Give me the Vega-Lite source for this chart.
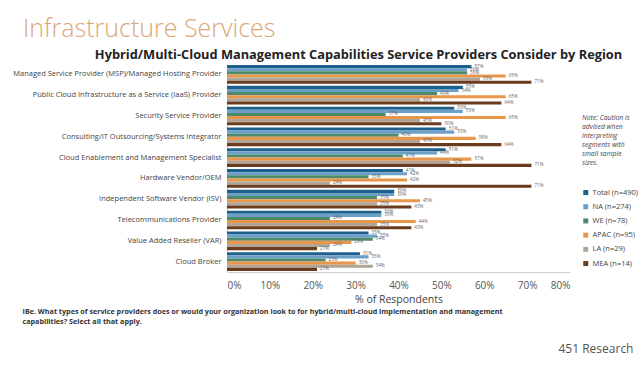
{
  "$schema": "https://vega.github.io/schema/vega-lite/v6.json",
  "width": 343,
  "height": 208,
  "autosize": {"type": "none"},
  "padding": {"left": 227, "top": 64, "right": 70, "bottom": 93},
  "background": "white",
  "config": {"view": {"stroke": null}, "font": "Open Sans"},
  "title": {
    "text": "Infrastructure Services",
    "anchor": "start",
    "frame": "group",
    "dx": -204,
    "offset": 6,
    "fontSize": 25,
    "font": "Open Sans",
    "fontWeight": 300,
    "color": "#dba677"
  },
  "data": {
    "values": [
      {"cat": "Managed Service Provider (MSP)/Managed Hosting Provider", "series": "Total (n=490)", "v": 0.57},
      {"cat": "Managed Service Provider (MSP)/Managed Hosting Provider", "series": "NA (n=274)", "v": 0.56},
      {"cat": "Managed Service Provider (MSP)/Managed Hosting Provider", "series": "WE (n=78)", "v": 0.56},
      {"cat": "Managed Service Provider (MSP)/Managed Hosting Provider", "series": "APAC (n=95)", "v": 0.65},
      {"cat": "Managed Service Provider (MSP)/Managed Hosting Provider", "series": "LA (n=29)", "v": 0.59},
      {"cat": "Managed Service Provider (MSP)/Managed Hosting Provider", "series": "MEA (n=14)", "v": 0.71},
      {"cat": "Public Cloud Infrastructure as a Service (IaaS) Provider", "series": "Total (n=490)", "v": 0.55},
      {"cat": "Public Cloud Infrastructure as a Service (IaaS) Provider", "series": "NA (n=274)", "v": 0.54},
      {"cat": "Public Cloud Infrastructure as a Service (IaaS) Provider", "series": "WE (n=78)", "v": 0.49},
      {"cat": "Public Cloud Infrastructure as a Service (IaaS) Provider", "series": "APAC (n=95)", "v": 0.65},
      {"cat": "Public Cloud Infrastructure as a Service (IaaS) Provider", "series": "LA (n=29)", "v": 0.45},
      {"cat": "Public Cloud Infrastructure as a Service (IaaS) Provider", "series": "MEA (n=14)", "v": 0.64},
      {"cat": "Security Service Provider", "series": "Total (n=490)", "v": 0.53},
      {"cat": "Security Service Provider", "series": "NA (n=274)", "v": 0.55},
      {"cat": "Security Service Provider", "series": "WE (n=78)", "v": 0.37},
      {"cat": "Security Service Provider", "series": "APAC (n=95)", "v": 0.65},
      {"cat": "Security Service Provider", "series": "LA (n=29)", "v": 0.45},
      {"cat": "Security Service Provider", "series": "MEA (n=14)", "v": 0.50},
      {"cat": "Consulting/IT Outsourcing/Systems Integrator", "series": "Total (n=490)", "v": 0.51},
      {"cat": "Consulting/IT Outsourcing/Systems Integrator", "series": "NA (n=274)", "v": 0.53},
      {"cat": "Consulting/IT Outsourcing/Systems Integrator", "series": "WE (n=78)", "v": 0.40},
      {"cat": "Consulting/IT Outsourcing/Systems Integrator", "series": "APAC (n=95)", "v": 0.58},
      {"cat": "Consulting/IT Outsourcing/Systems Integrator", "series": "LA (n=29)", "v": 0.45},
      {"cat": "Consulting/IT Outsourcing/Systems Integrator", "series": "MEA (n=14)", "v": 0.64},
      {"cat": "Cloud Enablement and Management Specialist", "series": "Total (n=490)", "v": 0.51},
      {"cat": "Cloud Enablement and Management Specialist", "series": "NA (n=274)", "v": 0.49},
      {"cat": "Cloud Enablement and Management Specialist", "series": "WE (n=78)", "v": 0.41},
      {"cat": "Cloud Enablement and Management Specialist", "series": "APAC (n=95)", "v": 0.57},
      {"cat": "Cloud Enablement and Management Specialist", "series": "LA (n=29)", "v": 0.52},
      {"cat": "Cloud Enablement and Management Specialist", "series": "MEA (n=14)", "v": 0.71},
      {"cat": "Hardware Vendor/OEM", "series": "Total (n=490)", "v": 0.41},
      {"cat": "Hardware Vendor/OEM", "series": "NA (n=274)", "v": 0.42},
      {"cat": "Hardware Vendor/OEM", "series": "WE (n=78)", "v": 0.33},
      {"cat": "Hardware Vendor/OEM", "series": "APAC (n=95)", "v": 0.42},
      {"cat": "Hardware Vendor/OEM", "series": "LA (n=29)", "v": 0.24},
      {"cat": "Hardware Vendor/OEM", "series": "MEA (n=14)", "v": 0.71},
      {"cat": "Independent Software Vendor (ISV)", "series": "Total (n=490)", "v": 0.39},
      {"cat": "Independent Software Vendor (ISV)", "series": "NA (n=274)", "v": 0.39},
      {"cat": "Independent Software Vendor (ISV)", "series": "WE (n=78)", "v": 0.35},
      {"cat": "Independent Software Vendor (ISV)", "series": "APAC (n=95)", "v": 0.45},
      {"cat": "Independent Software Vendor (ISV)", "series": "LA (n=29)", "v": 0.35},
      {"cat": "Independent Software Vendor (ISV)", "series": "MEA (n=14)", "v": 0.43},
      {"cat": "Telecommunications Provider", "series": "Total (n=490)", "v": 0.36},
      {"cat": "Telecommunications Provider", "series": "NA (n=274)", "v": 0.36},
      {"cat": "Telecommunications Provider", "series": "WE (n=78)", "v": 0.24},
      {"cat": "Telecommunications Provider", "series": "APAC (n=95)", "v": 0.44},
      {"cat": "Telecommunications Provider", "series": "LA (n=29)", "v": 0.35},
      {"cat": "Telecommunications Provider", "series": "MEA (n=14)", "v": 0.43},
      {"cat": "Value Added Reseller (VAR)", "series": "Total (n=490)", "v": 0.33},
      {"cat": "Value Added Reseller (VAR)", "series": "NA (n=274)", "v": 0.35},
      {"cat": "Value Added Reseller (VAR)", "series": "WE (n=78)", "v": 0.34},
      {"cat": "Value Added Reseller (VAR)", "series": "APAC (n=95)", "v": 0.29},
      {"cat": "Value Added Reseller (VAR)", "series": "LA (n=29)", "v": 0.24},
      {"cat": "Value Added Reseller (VAR)", "series": "MEA (n=14)", "v": 0.21},
      {"cat": "Cloud Broker", "series": "Total (n=490)", "v": 0.31},
      {"cat": "Cloud Broker", "series": "NA (n=274)", "v": 0.33},
      {"cat": "Cloud Broker", "series": "WE (n=78)", "v": 0.23},
      {"cat": "Cloud Broker", "series": "APAC (n=95)", "v": 0.30},
      {"cat": "Cloud Broker", "series": "LA (n=29)", "v": 0.34},
      {"cat": "Cloud Broker", "series": "MEA (n=14)", "v": 0.21}
    ]
  },
  "layer": [
    {
      "mark": {"type": "bar"},
      "encoding": {
        "x": {
          "field": "v",
          "type": "quantitative",
          "scale": {"domain": [0, 0.8], "nice": false},
          "axis": {
            "orient": "bottom",
            "format": ".0%",
            "values": [0, 0.1, 0.2, 0.3, 0.4, 0.5, 0.6, 0.7, 0.8],
            "grid": false,
            "ticks": false,
            "domain": true,
            "domainColor": "#d0d0d0",
            "labelFontSize": 10,
            "labelColor": "#555555",
            "labelPadding": 8,
            "title": "% of Respondents",
            "titleFontSize": 10.5,
            "titleFontWeight": "normal",
            "titleColor": "#444444",
            "titlePadding": 4
          }
        },
        "y": {
          "field": "cat",
          "type": "nominal",
          "sort": null,
          "scale": {"paddingInner": 0.1, "paddingOuter": 0.05},
          "axis": {
            "orient": "left",
            "ticks": false,
            "domain": true,
            "domainColor": "#d0d0d0",
            "labelFontSize": 7.5,
            "labelColor": "#444444",
            "labelPadding": 6,
            "labelLimit": 260,
            "title": "Hybrid/Multi-Cloud Management Capabilities Service Providers Consider by Region",
            "titleAngle": 0,
            "titleAlign": "center",
            "titleBaseline": "alphabetic",
            "titleX": 131,
            "titleY": -6,
            "titleFontSize": 12.8,
            "titleFontWeight": "bold",
            "titleColor": "#222222"
          }
        },
        "yOffset": {
          "field": "series",
          "sort": ["Total (n=490)", "NA (n=274)", "WE (n=78)", "APAC (n=95)", "LA (n=29)", "MEA (n=14)"]
        },
        "color": {
          "field": "series",
          "type": "nominal",
          "sort": ["Total (n=490)", "NA (n=274)", "WE (n=78)", "APAC (n=95)", "LA (n=29)", "MEA (n=14)"],
          "scale": {
            "domain": ["Total (n=490)", "NA (n=274)", "WE (n=78)", "APAC (n=95)", "LA (n=29)", "MEA (n=14)"],
            "range": ["#1f5f8b", "#6ca0c8", "#4f8a6b", "#e8964a", "#b0a596", "#6a3b1c"]
          },
          "legend": {
            "orient": "none",
            "legendX": 355,
            "legendY": 51,
            "title": ["Note: Caution is", "advised when", "interpreting", "segments with", "small sample", "sizes."],
            "titleFontStyle": "italic",
            "titleFontWeight": "normal",
            "titleFontSize": 6.8,
            "titleLineHeight": 9,
            "titleColor": "#444444",
            "titlePadding": 22,
            "symbolType": "square",
            "symbolSize": 25,
            "symbolStrokeWidth": 0,
            "labelFontSize": 7.5,
            "labelColor": "#444444",
            "labelOffset": 3,
            "rowPadding": 5.2
          }
        }
      }
    },
    {
      "mark": {"type": "text", "align": "left", "baseline": "middle", "dx": 3, "fontSize": 4.6, "color": "#666666"},
      "encoding": {
        "x": {
          "field": "v",
          "type": "quantitative",
          "axis": {
            "orient": "top",
            "labels": false,
            "ticks": false,
            "domain": false,
            "grid": false,
            "title": ["IBe. What types of service providers does or would your organization look to for hybrid/multi-cloud implementation and management", "capabilities? Select all that apply."],
            "titleAngle": 0,
            "titleAlign": "left",
            "titleBaseline": "alphabetic",
            "titleX": -205,
            "titleY": 249,
            "titleFontSize": 7.2,
            "titleFontWeight": "bold",
            "titleLineHeight": 10,
            "titleColor": "#333333",
            "titleLimit": 600
          }
        },
        "y": {
          "field": "cat",
          "type": "nominal",
          "sort": null,
          "axis": {
            "orient": "right",
            "labels": false,
            "ticks": false,
            "domain": false,
            "grid": false,
            "title": "451 Research",
            "titleAngle": 0,
            "titleAlign": "left",
            "titleBaseline": "alphabetic",
            "titleX": -12,
            "titleY": 288,
            "titleFontSize": 12,
            "titleFontWeight": "normal",
            "titleColor": "#555555"
          }
        },
        "yOffset": {
          "field": "series",
          "sort": ["Total (n=490)", "NA (n=274)", "WE (n=78)", "APAC (n=95)", "LA (n=29)", "MEA (n=14)"]
        },
        "text": {"field": "v", "type": "quantitative", "format": ".0%"}
      }
    }
  ]
}
